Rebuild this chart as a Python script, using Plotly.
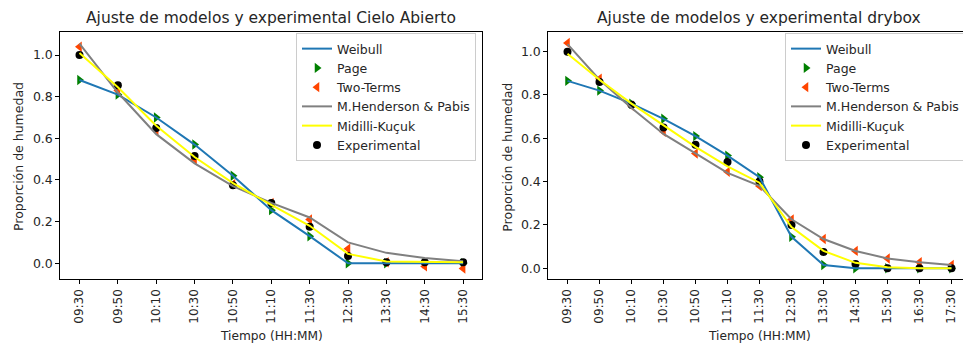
import plotly.graph_objects as go

# ---------------- data ----------------
tiempos_ca = ["09:30", "09:50", "10:10", "10:30", "10:50", "11:10",
              "11:30", "12:30", "13:30", "14:30", "15:30"]
tiempos_db = ["09:30", "09:50", "10:10", "10:30", "10:50", "11:10",
              "11:30", "12:30", "13:30", "14:30", "15:30", "16:30", "17:30"]

# Cielo Abierto
exp_ca = [1.0, 0.855, 0.65, 0.515, 0.375, 0.29, 0.175, 0.035, 0.005, 0.005, 0.005]
weibull_ca = [0.88, 0.81, 0.70, 0.57, 0.42, 0.255, 0.13, 0.0, 0.0, 0.0, 0.0]
page_ca = [0.88, 0.81, 0.70, 0.57, 0.42, 0.255, 0.13, 0.0, 0.0, 0.0, 0.0]
two_ca = [1.04, 0.83, 0.64, 0.50, 0.38, 0.29, 0.21, 0.07, 0.005, -0.015, -0.025]
hend_ca = [1.055, 0.82, 0.62, 0.48, 0.37, 0.29, 0.22, 0.10, 0.05, 0.025, 0.01]
mid_ca = [1.01, 0.845, 0.66, 0.51, 0.385, 0.28, 0.18, 0.045, 0.008, 0.005, 0.005]

# Drybox
exp_db = [1.0, 0.86, 0.755, 0.65, 0.57, 0.49, 0.40, 0.20, 0.075, 0.02, 0.0, 0.0, 0.0]
weibull_db = [0.865, 0.82, 0.76, 0.69, 0.61, 0.52, 0.42, 0.145, 0.015, 0.0, 0.0, 0.0, 0.0]
page_db = [0.865, 0.82, 0.76, 0.69, 0.61, 0.52, 0.42, 0.145, 0.015, 0.0, 0.0, 0.0, 0.0]
two_db = [1.04, 0.875, 0.75, 0.63, 0.53, 0.445, 0.38, 0.225, 0.135, 0.08, 0.045, 0.028, 0.015]
hend_db = [1.035, 0.87, 0.74, 0.62, 0.53, 0.44, 0.38, 0.226, 0.135, 0.08, 0.045, 0.028, 0.015]
mid_db = [0.99, 0.87, 0.76, 0.66, 0.56, 0.47, 0.395, 0.19, 0.08, 0.025, 0.005, 0.0, 0.0]

titles = ["Ajuste de modelos y experimental Cielo Abierto",
          "Ajuste de modelos y experimental drybox"]
xlabel = "Tiempo (HH:MM)"
ylabel = "Proporción de humedad"
names = ["Weibull", "Page", "Two-Terms", "M.Henderson & Pabis", "Midilli-Kuçuk", "Experimental"]

# ---------------- figure ----------------
FONT = "DejaVu Sans"
TXT = "#262626"
W, H = 963, 345

fig = go.Figure()

def add_panel(x, weib, page, two, hend, mid, exp, xa, ya, leg):
    # scatter markers first (drawn below lines, like matplotlib zorder)
    fig.add_trace(go.Scatter(x=x, y=page, mode="markers", name=names[1],
                             marker=dict(symbol="triangle-right", size=9, color="#008000"),
                             xaxis=xa, yaxis=ya, legend=leg, legendrank=2))
    fig.add_trace(go.Scatter(x=x, y=two, mode="markers", name=names[2],
                             marker=dict(symbol="triangle-left", size=9, color="#FF4500"),
                             xaxis=xa, yaxis=ya, legend=leg, legendrank=3))
    fig.add_trace(go.Scatter(x=x, y=exp, mode="markers", name=names[5],
                             marker=dict(symbol="circle", size=8, color="black"),
                             xaxis=xa, yaxis=ya, legend=leg, legendrank=6))
    fig.add_trace(go.Scatter(x=x, y=weib, mode="lines", name=names[0],
                             line=dict(color="#1f77b4", width=2),
                             xaxis=xa, yaxis=ya, legend=leg, legendrank=1))
    fig.add_trace(go.Scatter(x=x, y=hend, mode="lines", name=names[3],
                             line=dict(color="#808080", width=2),
                             xaxis=xa, yaxis=ya, legend=leg, legendrank=4))
    fig.add_trace(go.Scatter(x=x, y=mid, mode="lines", name=names[4],
                             line=dict(color="#FFFF00", width=2),
                             xaxis=xa, yaxis=ya, legend=leg, legendrank=5))

add_panel(tiempos_ca, weibull_ca, page_ca, two_ca, hend_ca, mid_ca, exp_ca, "x", "y", "legend")
add_panel(tiempos_db, weibull_db, page_db, two_db, hend_db, mid_db, exp_db, "x2", "y2", "legend2")

tickfont = dict(family=FONT, size=12, color=TXT)
axcommon = dict(showgrid=False, zeroline=False, showline=True, linecolor="black",
                linewidth=1, ticks="outside", ticklen=4, tickwidth=1, tickcolor="black",
                tickfont=tickfont, automargin=False)

y0, y1 = 1 - 279.3 / H, 1 - 31.7 / H
ymid = 1 - 157 / H

def ann(text, x, y, size, angle=0):
    return dict(text=text, x=x / W, y=y, xref="paper", yref="paper",
                xanchor="center", yanchor="middle", showarrow=False, textangle=angle,
                font=dict(family=FONT, size=size, color=TXT))

fig.update_layout(
    width=W, height=H,
    margin=dict(l=0, r=0, t=0, b=0, autoexpand=False),
    paper_bgcolor="white", plot_bgcolor="white",
    font=dict(family=FONT, size=12.5, color=TXT),
    xaxis=dict(axcommon, domain=[60.3 / W, 482.3 / W], type="category",
               categoryorder="array", categoryarray=tiempos_ca,
               range=[-0.5, 10.5], tickangle=-90, mirror=True, anchor="y"),
    yaxis=dict(axcommon, domain=[y0, y1], range=[-0.077, 1.112], tickformat=".1f",
               dtick=0.2, tick0=0, mirror=True, anchor="x", tickfont=dict(family=FONT, size=12.5, color=TXT)),
    xaxis2=dict(axcommon, domain=[548.3 / W, 1.0], type="category",
                categoryorder="array", categoryarray=tiempos_db,
                range=[-0.6, 12.36], tickangle=-90, mirror=True, anchor="y2"),
    yaxis2=dict(axcommon, domain=[y0, y1], range=[-0.051, 1.092], tickformat=".1f",
                dtick=0.2, tick0=0, mirror=False, anchor="x2", tickfont=dict(family=FONT, size=12.5, color=TXT)),
    legend=dict(x=476 / W, xanchor="right", y=1 - 33 / H, yanchor="top",
                bgcolor="rgba(255,255,255,0.8)", bordercolor="#cccccc", borderwidth=1,
                font=dict(family=FONT, size=12.5, color=TXT), traceorder="normal"),
    legend2=dict(x=785 / W, xanchor="left", y=1 - 33 / H, yanchor="top",
                 bgcolor="rgba(255,255,255,0.8)", bordercolor="#cccccc", borderwidth=1,
                 font=dict(family=FONT, size=12.5, color=TXT), traceorder="normal"),
    annotations=[
        ann(titles[0], (60.3 + 482.3) / 2, 1 - 18.5 / H, 15.5),
        ann(titles[1], (548.3 + 970) / 2, 1 - 18.5 / H, 15.5),
        ann(xlabel, (60.3 + 482.3) / 2, 1 - 336 / H, 12.2),
        ann(xlabel, (548.3 + 970) / 2, 1 - 336 / H, 12.2),
        ann(ylabel, 18, ymid, 12.5, -90),
        ann(ylabel, 506.7, ymid, 12.5, -90),
    ],
)

fig.write_html("out.html", config={"displayModeBar": False},
               post_script="document.body.style.margin='0px';")
